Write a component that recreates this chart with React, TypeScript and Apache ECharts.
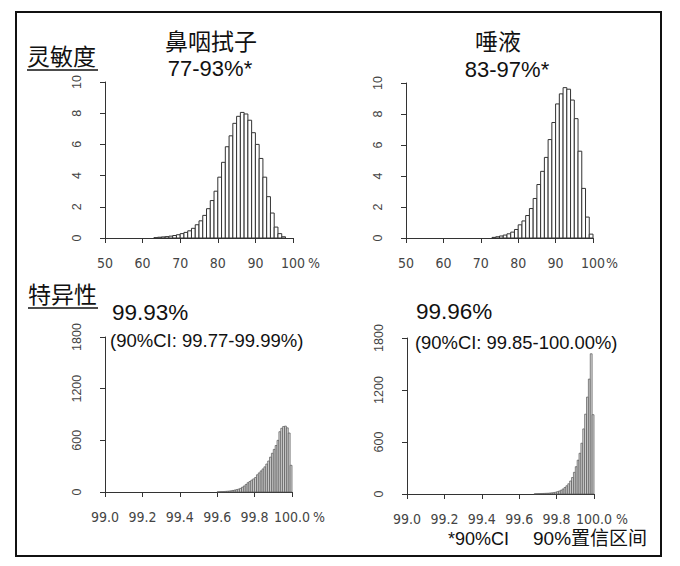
import React, { useEffect, useRef } from "react";
import * as echarts from "echarts";

// Sensitivity histograms (percent density), 1% bins, lower edges
const sensNasalBins = [63,64,65,66,67,68,69,70,71,72,73,74,75,76,77,78,79,80,81,82,83,84,85,86,87,88,89,90,91,92,93,94,95,96,97];
const sensNasalVals = [0.02,0.05,0.07,0.09,0.12,0.16,0.21,0.28,0.36,0.46,0.62,0.85,1.1,1.45,1.88,2.4,3.0,3.9,4.85,5.85,6.55,7.35,7.8,8.05,7.95,7.55,6.75,6.0,5.1,3.9,2.65,1.6,0.7,0.28,0.08];
const sensSalivaBins = [73,74,75,76,77,78,79,80,81,82,83,84,85,86,87,88,89,90,91,92,93,94,95,96,97,98,99];
const sensSalivaVals = [0.04,0.08,0.13,0.19,0.27,0.38,0.55,0.85,1.1,1.45,1.9,2.55,3.45,4.3,5.2,6.35,7.45,8.65,9.3,9.7,9.6,8.9,7.7,5.6,3.2,1.35,0.25];

// Specificity histograms (counts), 0.01% bins, lower edges
const specNasalBins = [99.60,99.61,99.62,99.63,99.64,99.65,99.66,99.67,99.68,99.69,99.70,99.71,99.72,99.73,99.74,99.75,99.76,99.77,99.78,99.79,99.80,99.81,99.82,99.83,99.84,99.85,99.86,99.87,99.88,99.89,99.90,99.91,99.92,99.93,99.94,99.95,99.96,99.97,99.98,99.99];
const specNasalVals = [2,3,4,5,7,9,11,14,18,23,28,34,42,55,70,88,108,122,138,152,168,200,222,245,268,292,325,360,405,450,495,540,600,700,740,760,765,745,685,310];
const specSalivaBins = [99.68,99.69,99.70,99.71,99.72,99.73,99.74,99.75,99.76,99.77,99.78,99.79,99.80,99.81,99.82,99.83,99.84,99.85,99.86,99.87,99.88,99.89,99.90,99.91,99.92,99.93,99.94,99.95,99.96,99.97,99.98,99.99];
const specSalivaVals = [2,3,4,5,6,7,8,9,11,13,16,20,27,34,44,58,75,95,118,150,190,250,315,390,470,586,751,921,1118,1326,1618,915];

const sensTicks = [50, 100, 10];
const sensY = [0, 10, 2];
const specTicks = [99.0, 100.0, 0.2];
const specY = [0, 1800, 600];

const AXIS = "#333";
const LABEL = "#444";
const TICKFONT = "'Liberation Sans Narrow', 'DejaVu Sans Condensed', 'Liberation Sans', sans-serif";
const FONT = "'Liberation Sans', 'Noto Sans CJK SC', sans-serif";

function hist(bins: number[], vals: number[], width: number, idx: number, fine: boolean) {
  return {
    type: "custom",
    xAxisIndex: idx,
    yAxisIndex: idx,
    encode: { x: [0, 1], y: 2 },
    data: bins.map((b, i) => [b, b + width, vals[i]]),
    renderItem: (params: any, api: any) => {
      const p0 = api.coord([api.value(0), 0]);
      const p1 = api.coord([api.value(1), api.value(2)]);
      return {
        type: "rect",
        shape: { x: p0[0], y: p1[1], width: p1[0] - p0[0], height: p0[1] - p1[1] },
        style: fine
          ? { fill: "#d8d8d8", stroke: "#555", lineWidth: 0.7 }
          : { fill: "#fff", stroke: "#333", lineWidth: 1 },
      };
    },
  };
}

function xAxis(idx: number, t: number[], dec: number) {
  return {
    type: "value",
    gridIndex: idx,
    min: t[0],
    max: t[1],
    interval: t[2],
    axisLine: { show: true, onZero: false, lineStyle: { color: AXIS, width: 1 } },
    axisTick: { show: true, length: 5, lineStyle: { color: AXIS } },
    axisLabel: {
      margin: 18,
      fontSize: 14,
      color: LABEL,
      fontFamily: TICKFONT,
      showMinLabel: true,
      showMaxLabel: true,
      formatter: (v: number) => v.toFixed(dec),
    },
    splitLine: { show: false },
  };
}

function yAxis(idx: number, t: number[]) {
  return {
    type: "value",
    gridIndex: idx,
    min: t[0],
    max: t[1],
    interval: t[2],
    axisLine: { show: true, lineStyle: { color: AXIS, width: 1 } },
    axisTick: { show: true, length: 5, lineStyle: { color: AXIS } },
    axisLabel: {
      rotate: 90,
      margin: 22,
      fontSize: 12.5,
      color: LABEL,
      fontFamily: FONT,
      showMinLabel: true,
      showMaxLabel: true,
      formatter: (v: number) => String(v),
    },
    splitLine: { show: false },
  };
}

function txt(x: number, y: number, text: string, size: number, align = "left", font = FONT, color = "#111") {
  return {
    type: "text",
    x,
    y,
    style: { text, fontSize: size, fontFamily: font, fill: color, textAlign: align, textVerticalAlign: "middle" },
  };
}

export default function App() {
  const ref = useRef<HTMLDivElement>(null);
  useEffect(() => {
    document.body.style.margin = "0";
    const chart = echarts.init(ref.current!, null, { renderer: "svg" });
    chart.setOption({
      animation: false,
      backgroundColor: "#fff",
      grid: [
        { left: 105, top: 82, width: 188, height: 156 },
        { left: 406, top: 83, width: 187, height: 155 },
        { left: 105, top: 337, width: 187, height: 155 },
        { left: 407, top: 338, width: 187, height: 156 },
      ],
      xAxis: [xAxis(0, sensTicks, 0), xAxis(1, sensTicks, 0), xAxis(2, specTicks, 1), xAxis(3, specTicks, 1)],
      yAxis: [yAxis(0, sensY), yAxis(1, sensY), yAxis(2, specY), yAxis(3, specY)],
      series: [
        hist(sensNasalBins, sensNasalVals, 1, 0, false),
        hist(sensSalivaBins, sensSalivaVals, 1, 1, false),
        hist(specNasalBins, specNasalVals, 0.01, 2, true),
        hist(specSalivaBins, specSalivaVals, 0.01, 3, true),
      ],
      graphic: [
        { type: "rect", shape: { x: 16, y: 12, width: 645, height: 544 }, style: { fill: "none", stroke: "#111", lineWidth: 2 } },
        txt(27, 57, "灵敏度", 23),
        { type: "line", shape: { x1: 27, y1: 70, x2: 98, y2: 70 }, style: { stroke: "#111", lineWidth: 1.5 } },
        txt(28, 295, "特异性", 23),
        { type: "line", shape: { x1: 28, y1: 308, x2: 98, y2: 308 }, style: { stroke: "#111", lineWidth: 1.5 } },
        txt(211, 42, "鼻咽拭子", 23, "center"),
        txt(210, 68, "77-93%*", 22, "center"),
        txt(498, 42, "唾液", 23, "center"),
        txt(507, 69, "83-97%*", 22, "center"),
        txt(112, 312, "99.93%", 22.5),
        txt(110, 340, "(90%CI: 99.77-99.99%)", 18.5),
        txt(416, 311, "99.96%", 22.5),
        txt(415, 342, "(90%CI: 99.85-100.00%)", 18.4),
        txt(448, 539, "*90%CI", 18),
        txt(533, 538, "90%置信区间", 19),
        txt(314, 263, "%", 14, "center", TICKFONT, LABEL),
        txt(612, 263, "%", 14, "center", TICKFONT, LABEL),
        txt(319, 517, "%", 14, "center", TICKFONT, LABEL),
        txt(622, 519, "%", 14, "center", TICKFONT, LABEL),
      ],
    });
    return () => chart.dispose();
  }, []);
  return <div ref={ref} style={{ width: 680, height: 566 }} />;
}
